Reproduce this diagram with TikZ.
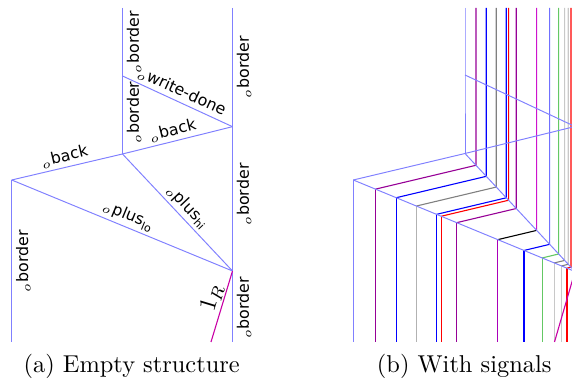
\documentclass[tikz,border=0pt]{standalone}
\usepackage{amsmath}
\usepackage{fontspec}
\newfontfamily\labfont{DejaVu Sans}
\usetikzlibrary{calc}
\definecolor{struct}{RGB}{128,128,255}
\definecolor{sP}{RGB}{150,0,150}
\definecolor{sP2}{RGB}{170,0,185}
\definecolor{sM}{RGB}{205,20,205}
\definecolor{sLB}{RGB}{112,112,255}
\definecolor{sG}{RGB}{100,200,100}
\definecolor{sLG}{RGB}{200,200,200}
\definecolor{sGr}{RGB}{128,128,128}
\definecolor{oneR}{RGB}{200,0,165}
\newcommand\sigline[5]{%
  \coordinate (#5t) at (#1,8);
  \coordinate (#5v) at (#1,400);
  \coordinate (#5a) at (intersection of #5t--#5v and Cp--Ep);
  \coordinate (#5d) at ($(#5a)+(Dp)-(Cp)$);
  \coordinate (#5b) at (intersection of #5a--#5d and Dp--Ep);
  \coordinate (#5c) at (#5b |- Dpb);
  \draw[sg,#2] (#5t) -- (#5a);
  \draw[sg,#3] (#5a) -- (#5b);
  \draw[sg,#4] (#5b) -- (#5c);
}
\newcommand\lsub[1]{$_{\text{\labfont #1}}$}
\begin{document}
\begin{tikzpicture}[x=0.41pt,y=-0.41pt,
  st/.style={struct,line width=0.4pt},
  sg/.style={line width=0.45pt},
  lab/.style={font=\fontsize{6.5}{8}\labfont,text=black,inner sep=1.2pt},
  vlab/.style={lab,rotate=90,anchor=north,inner sep=1.6pt},
  captxt/.style={font=\normalsize,inner sep=0pt}]
\useasboundingbox (0,0) rectangle (572,383);
% ---------- (a) empty structure ----------
\coordinate (Ct) at (122.5,8);
\coordinate (A) at (122.5,76);
\coordinate (C) at (122.5,154);
\coordinate (Bt) at (232.5,8);
\coordinate (B) at (232.5,126.7);
\coordinate (E) at (232.5,271);
\coordinate (Bb) at (232.5,342);
\coordinate (D) at (11.7,180);
\coordinate (Db) at (11.7,342);
\coordinate (R) at (211,342);
\draw[st] (Ct) -- node[vlab,pos=0.5]{$_o$border} (A);
\draw[st] (A) -- node[vlab,pos=0.47]{$_o$border} (C);
\draw[st] (Bt) -- node[vlab,pos=0.5]{$_o$border} (B);
\draw[st] (B) -- node[vlab,pos=0.47]{$_o$border} (E);
\draw[st] (E) -- node[vlab,pos=0.52]{$_o$border} (Bb);
\draw[st] (D) -- node[vlab,pos=0.5]{$_o$border} (Db);
\draw[st] (A) -- node[lab,sloped,above,pos=0.5]{$_o$write-done} (B);
\draw[st] (C) -- node[lab,sloped,above,pos=0.48]{$_o$back} (B);
\draw[st] (D) -- node[lab,sloped,above,pos=0.5]{$_o$back} (C);
\draw[st] (D) -- node[lab,sloped,above,pos=0.51]{$_o$plus\lsub{lo}} (E);
\draw[st] (C) -- node[lab,sloped,above,pos=0.52]{$_o$plus\lsub{hi}} (E);
\draw[oneR,line width=0.45pt] (E) -- node[lab,sloped,above,pos=0.42,font=\normalsize,inner sep=0.6pt]{$1_R$} (R);
\node[captxt] (capa) at (131.7,366) {(a) Empty structure};
% ---------- (b) with signals ----------
\begin{scope}
\clip (340,0) rectangle (572,350);
\coordinate (Cpt) at (465,8);
\coordinate (Ap) at (465,75);
\coordinate (Cp) at (465,153.5);
\coordinate (Bpt) at (575,8);
\coordinate (Bp) at (575,126.5);
\coordinate (Ep) at (575,271.5);
\coordinate (Bpb) at (575,342);
\coordinate (Dp) at (353.3,180);
\coordinate (Dpb) at (353.3,342);
\coordinate (Rp) at (554.5,342);
\sigline{476}{sP}{sP}{sP}{s1}
\sigline{486.3}{blue}{blue}{blue}{s2}
\sigline{496.3}{sGr}{sGr}{gray!60}{s3}
\sigline{506.3}{blue}{blue}{blue}{s4}
\sigline{508.6}{red}{red}{red}{s5}
\sigline{516.3}{sP}{sP}{sP}{s6}
\sigline{536.7}{sM}{black}{sP2}{s7}
\sigline{549.7}{sLB}{blue}{blue}{s8}
\sigline{558.7}{sG}{sG}{sG}{s9}
\sigline{564.7}{sLG}{sGr}{sLG}{s10}
\sigline{568.3}{sLG}{sGr}{sLG}{s11}
\sigline{571}{red}{red}{red}{s12}
\draw[st] (Cpt) -- (Ap) -- (Cp);
\draw[st] (Bpt) -- (Bp) -- (Ep) -- (Bpb);
\draw[st] (Dp) -- (Dpb);
\draw[st] (Ap) -- (Bp);
\draw[st] (Cp) -- (Bp);
\draw[st] (Dp) -- (Cp);
\draw[st] (Dp) -- (Ep);
\draw[st] (Cp) -- (Ep);
\draw[oneR,line width=0.45pt] (Ep) -- (Rp);
\end{scope}
\node[captxt] (capb) at (464.2,366) {(b) With signals};
\end{tikzpicture}
\end{document}
